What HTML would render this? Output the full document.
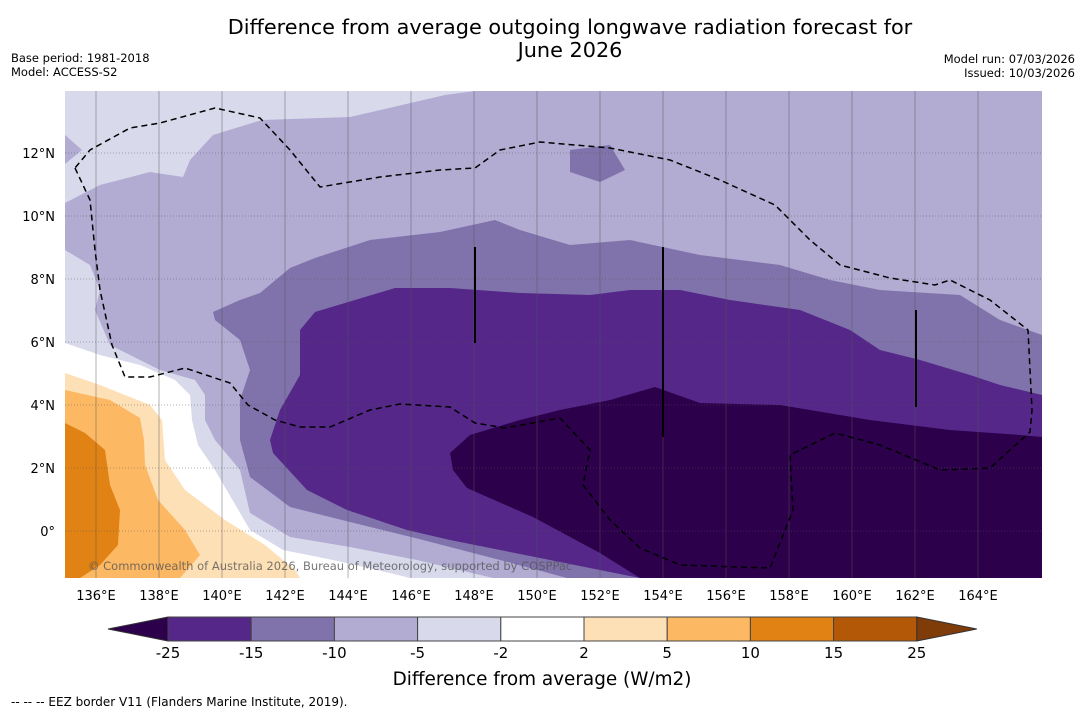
<!DOCTYPE html>
<html><head><meta charset="utf-8"><style>
body{margin:0;background:#fff;width:1085px;height:713px;overflow:hidden;font-family:"DejaVu Sans","Liberation Sans",sans-serif}
svg{position:absolute;left:0;top:0}
</style></head><body>
<svg width="1085" height="713">
<text x="570" y="34" font-size="20.8" text-anchor="middle">Difference from average outgoing longwave radiation forecast for</text>
<text x="570" y="57" font-size="20.8" text-anchor="middle">June 2026</text>
<text x="11" y="62" font-size="11.5">Base period: 1981-2018</text>
<text x="11" y="76" font-size="11.5">Model: ACCESS-S2</text>
<text x="1075" y="63" font-size="11.5" text-anchor="end">Model run: 07/03/2026</text>
<text x="1075" y="77" font-size="11.5" text-anchor="end">Issued: 10/03/2026</text>
<defs><clipPath id="mc"><rect x="65" y="91" width="977" height="487"/></clipPath></defs>
<g clip-path="url(#mc)">
<rect x="65" y="91" width="977" height="487" fill="#d8daeb"/>
<polygon fill="#b2abd2" points="1042,91 475,91 445,95 350,117 262,120 213,135 190,160 183,177 150,172 100,185 65,203 65,250 90,265 100,290 95,310 110,345 160,370 195,380 205,395 205,420 215,440 240,470 250,513 290,537 350,547 417,560 493,578 1042,578"/>
<polygon fill="#b2abd2" points="65,135 82,150 65,164"/>
<polygon fill="#ffffff" points="65,343 100,355 140,365 175,380 190,395 192,420 198,445 215,470 250,530 283,550 333,560 390,573 410,578 65,578"/>
<polygon fill="#fee0b6" points="65,373 100,385 150,405 162,420 165,460 185,490 225,520 265,545 295,570 300,578 65,578"/>
<polygon fill="#fdb863" points="65,390 110,400 140,418 144,440 145,465 158,500 185,530 200,555 180,578 65,578"/>
<polygon fill="#e08214" points="65,423 85,433 105,450 110,485 120,510 118,545 100,565 80,578 65,578"/>
<polygon fill="#8073ac" points="213,312 240,300 260,293 290,268 315,258 370,240 440,232 495,220 520,230 570,245 630,240 700,255 780,265 830,280 880,290 960,295 1000,320 1042,335 1042,578 567,578 500,560 423,540 350,522 290,507 250,477 240,440 240,400 250,370 240,340 215,320"/>
<polygon fill="#8073ac" points="570,150 610,145 625,170 600,182 570,172"/>
<polygon fill="#542788" points="300,330 315,312 355,300 395,288 450,288 520,293 590,295 630,290 680,290 730,300 800,310 850,330 880,350 920,360 970,375 1000,385 1042,395 1042,578 640,578 550,560 450,540 407,530 347,510 307,490 273,453 270,440 280,410 300,375"/>
<polygon fill="#2d004b" points="450,453 470,435 520,420 560,410 610,400 655,387 700,403 780,405 870,420 950,430 1020,435 1042,437 1042,578 640,578 600,553 533,517 467,488 453,470"/>
<g id="grid" stroke="#555" stroke-opacity="0.45" stroke-width="1"></g>
<g stroke="#000" stroke-width="2">
<line x1="475" y1="247" x2="475" y2="343"/><line x1="663" y1="247" x2="663" y2="437"/><line x1="916" y1="310" x2="916" y2="407"/>
</g>
<polyline fill="none" stroke="#000" stroke-width="1.5" stroke-dasharray="6,4" points="75,168 90,200 95,250 100,290 112,345 125,377 150,377 185,368 230,383 248,405 275,420 300,427 330,427 370,410 400,404 450,407 475,423 505,428 560,418 590,450 583,485 610,520 640,548 680,565 770,568 793,510 790,455 835,433 880,445 940,470 990,468 1030,432 1032,410 1028,330 990,300 950,280 935,285 890,278 840,265 810,240 775,205 720,180 670,160 610,148 540,142 500,150 475,168 440,170 380,177 320,187 290,150 260,118 215,108 160,123 130,128 90,150 75,168"/>
<text x="88" y="570" font-size="11.5" fill="#555" fill-opacity="0.8">© Commonwealth of Australia 2026, Bureau of Meteorology, supported by COSPPac</text>
</g>
<g id="axes" font-size="13"></g>
<g id="cbar"></g>
<text x="542" y="685" font-size="18.4" text-anchor="middle">Difference from average (W/m2)</text>
<text x="11" y="706" font-size="12">--  --  -- EEZ border V11 (Flanders Marine Institute, 2019).</text>
</svg>
<script>
const lonTicks=[136,138,140,142,144,146,148,150,152,154,156,158,160,162,164];
const latTicks=[0,2,4,6,8,10,12];
const cbLevels=[-25,-15,-10,-5,-2,2,5,10,15,25];
const cbColors=["#542788","#8073ac","#b2abd2","#d8daeb","#ffffff","#fee0b6","#fdb863","#e08214","#b35806"];
const cbUnder="#2d004b", cbOver="#7f3b08";
const NS="http://www.w3.org/2000/svg";
function X(lon){return 64.5+(lon-135)*31.5;}
function Y(lat){return 531-lat*31.5;}
function mk(t,a,p){const e=document.createElementNS(NS,t);for(const k in a)e.setAttribute(k,a[k]);p.appendChild(e);return e;}
const grid=document.getElementById('grid'),axes=document.getElementById('axes'),cb=document.getElementById('cbar');
lonTicks.forEach(l=>{
 const ln=mk('line',{x1:X(l),x2:X(l),y1:91,y2:578},grid);
 
 
 const t=mk('text',{x:X(l),y:600,'text-anchor':'middle'},axes);t.textContent=l+'°E';
 
 
});
latTicks.forEach(l=>{
 const ln=mk('line',{x1:65,x2:1042,y1:Y(l),y2:Y(l),'stroke-dasharray':'1,2'},grid);
 
 
 const t=mk('text',{x:55,y:Y(l)+5,'text-anchor':'end'},axes);t.textContent=l===0?'0°':l+'°N';
 
 
});
const cx0=168,cw=83.2,cy=617,ch=24;
const under=mk('polygon',{points:`108,${cy+ch/2} ${cx0},${cy} ${cx0},${cy+ch}`,fill:cbUnder,stroke:'#333'},cb);


cbColors.forEach((c,i)=>{
 const r=mk('rect',{x:cx0+i*cw,y:cy,width:cw,height:ch,fill:c,stroke:'#444','stroke-width':1},cb);
 
 
});
const xe=cx0+cbColors.length*cw;
const over=mk('polygon',{points:`${xe},${cy} ${xe+60},${cy+ch/2} ${xe},${cy+ch}`,fill:cbOver,stroke:'#333'},cb);


cbLevels.forEach((v,i)=>{
 const t=mk('text',{x:cx0+i*cw,y:658,'text-anchor':'middle','font-size':15},cb);t.textContent=v;
 
 
});
</script>
</body></html>
